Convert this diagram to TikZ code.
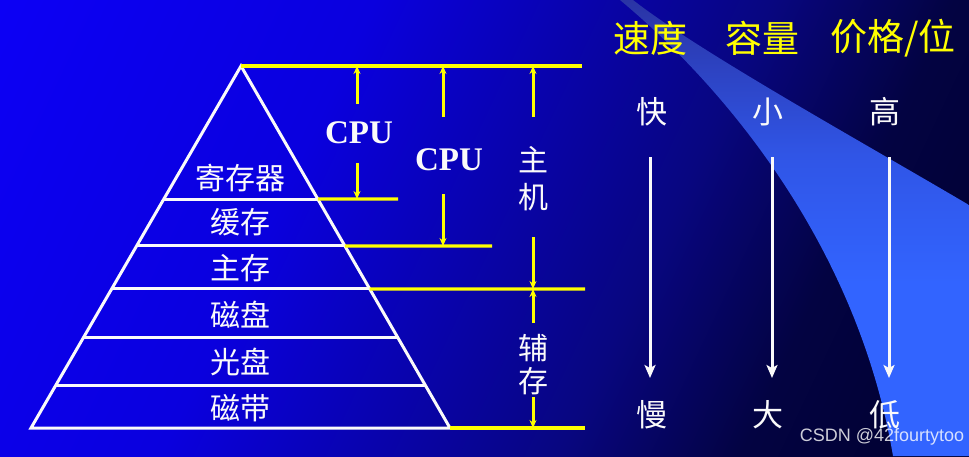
\documentclass[tikz,border=0pt]{standalone}
\usepackage{fontspec}
\setmainfont{Liberation Serif}
\newfontfamily\cjk{Noto Sans CJK SC}
\newfontfamily\wmfont{Liberation Sans}
\usetikzlibrary{calc,arrows.meta}

\definecolor{bgA}{RGB}{12,0,245}
\definecolor{bgB}{RGB}{10,0,222}
\definecolor{bgC}{RGB}{8,6,128}
\definecolor{bgD}{RGB}{3,3,66}
\definecolor{bgE}{RGB}{0,0,45}
\definecolor{swT}{RGB}{42,52,165}
\definecolor{swM}{RGB}{48,85,230}
\definecolor{swB}{RGB}{50,100,255}
\definecolor{ylw}{RGB}{255,255,0}
\definecolor{wt}{RGB}{250,250,250}

\pgfdeclarehorizontalshading{bgsh}{100bp}{color(0bp)=(bgA); color(16.7bp)=(bgA); color(37.7bp)=(bgB); color(60.2bp)=(bgC); color(70.5bp)=(bgD); color(83.3bp)=(bgE); color(100bp)=(bgE)}
\pgfdeclareverticalshading{swsh}{100bp}{color(0bp)=(swB); color(25bp)=(swB); color(44bp)=(swB); color(58bp)=(swM); color(75bp)=(swT); color(100bp)=(swT)}

\begin{document}
\begin{tikzpicture}[x=1pt,y=-1pt,
  ylwline/.style={draw=ylw, line width=3.2pt},
  ylwarrow/.style={draw=ylw, line width=3pt, -{Stealth[length=8pt,width=7pt]}},
  whtline/.style={draw=wt, line width=3pt},
  whtarrow/.style={draw=wt, line width=3pt, -{Stealth[length=13pt,width=11pt,inset=3pt]}},
  pyrtext/.style={text=wt, font=\cjk\fontsize{30}{30}\selectfont, inner sep=0pt},
  sidetext/.style={text=wt, font=\cjk\fontsize{30}{30}\selectfont, inner sep=0pt},
  cputext/.style={text=wt, font=\bfseries\fontsize{33}{33}\selectfont, inner sep=0pt},
  headtext/.style={text=ylw, font=\cjk\fontsize{37}{37}\selectfont, inner sep=0pt},
  valtext/.style={text=wt, font=\cjk\fontsize{31}{31}\selectfont, inner sep=0pt}
]
\useasboundingbox (0,0) rectangle (969,456);
% background
\shade[shading=bgsh, shading angle=-25.2] (0,0) rectangle (969,456);
% swoosh
\shade[shading=swsh] (633,0) .. controls (700,52) and (850,135) .. (969,205)
  -- (969,456) -- (893,456) .. controls (860,260) and (740,100) .. (620,0) -- cycle;

% pyramid
\coordinate (apex) at (241,66);
\coordinate (bl) at (31,428);
\coordinate (br) at (450,428);
\coordinate (l1) at ($(apex)!0.3674!(bl)$);
\coordinate (r1) at ($(apex)!0.3674!(br)$);
\coordinate (l2) at ($(apex)!0.4972!(bl)$);
\coordinate (r2) at ($(apex)!0.4972!(br)$);
\coordinate (l3) at ($(apex)!0.6160!(bl)$);
\coordinate (r3) at ($(apex)!0.6160!(br)$);
\coordinate (l4) at ($(apex)!0.7486!(bl)$);
\coordinate (r4) at ($(apex)!0.7486!(br)$);
\coordinate (l5) at ($(apex)!0.8812!(bl)$);
\coordinate (r5) at ($(apex)!0.8812!(br)$);
\draw[whtline, line join=miter] (apex) -- (bl) -- (br) -- cycle;
\draw[whtline] (l1) -- (r1);
\draw[whtline] (l2) -- (r2);
\draw[whtline] (l3) -- (r3);
\draw[whtline] (l4) -- (r4);
\draw[whtline] (l5) -- (r5);

\node[pyrtext] (reg) at (240,178) {寄存器};
\node[pyrtext] (cache) at (240,222) {缓存};
\node[pyrtext] (mem) at (240,268) {主存};
\node[pyrtext] (disk) at (240,315) {磁盘};
\node[pyrtext] (cd) at (240,362) {光盘};
\node[pyrtext] (tape) at (240,408) {磁带};

% yellow horizontal lines
\coordinate (ytop) at (582,66);
\coordinate (y1) at (398,199);
\coordinate (y2) at (492,246);
\coordinate (y3) at (585,289);
\coordinate (y6) at (585,428);
\draw[ylwline] (apex) -- (ytop);
\draw[ylwline] (r1) -- (y1);
\draw[ylwline] (r2) -- (y2);
\draw[ylwline] (r3) -- (y3);
\draw[ylwline] (br) -- (y6);

% CPU 1
\node[cputext] (cpu1) at (359,133) {CPU};
\coordinate (c1s) at (357,104);
\coordinate (c1t) at (357,66);
\coordinate (c1d) at (357,163);
\coordinate (c1b) at (357,199);
\draw[ylwarrow] (c1s) -- (c1t);
\draw[ylwarrow] (c1d) -- (c1b);

% CPU 2
\node[cputext] (cpu2) at (449,160) {CPU};
\coordinate (c2s) at (443,117);
\coordinate (c2t) at (443,66);
\coordinate (c2d) at (443,194);
\coordinate (c2b) at (443,246);
\draw[ylwarrow] (c2s) -- (c2t);
\draw[ylwarrow] (c2d) -- (c2b);

% host
\node[sidetext] (zhu) at (533,160) {主};
\node[sidetext] (ji) at (533,197) {机};
\coordinate (hs) at (533,117);
\coordinate (ht) at (533,66);
\coordinate (hd) at (533,237);
\coordinate (hb) at (533,289);
\draw[ylwarrow] (hs) -- (ht);
\draw[ylwarrow] (hd) -- (hb);

% auxiliary
\node[sidetext] (fu) at (533,348) {辅};
\node[sidetext] (cun) at (533,381) {存};
\coordinate (as) at (533,323);
\coordinate (at) at (533,289);
\coordinate (ad) at (533,397);
\coordinate (ab) at (533,428);
\draw[ylwarrow] (as) -- (at);
\draw[ylwarrow] (ad) -- (ab);

% right side
\node[headtext] (h1) at (650,38) {速度};
\node[headtext] (h2) at (762,38) {容量};
\node[headtext] (h3) at (893,38) {价格/位};

\node[valtext] (kuai) at (652,112) {快};
\node[valtext] (xiao) at (768,112) {小};
\node[valtext] (gao) at (885,112) {高};
\node[valtext] (man) at (652,415) {慢};
\node[valtext] (da) at (768,415) {大};
\node[valtext] (di) at (885,415) {低};

\coordinate (a1s) at (650,157);
\coordinate (a1e) at (650,378);
\coordinate (a2s) at (772,157);
\coordinate (a2e) at (772,378);
\coordinate (a3s) at (889,157);
\coordinate (a3e) at (889,378);
\draw[whtarrow] (a1s) -- (a1e);
\draw[whtarrow] (a2s) -- (a2e);
\draw[whtarrow] (a3s) -- (a3e);

\node[text=white, opacity=0.8, font=\wmfont\fontsize{18}{18}\selectfont, inner sep=0pt] (wmk) at (882,437) {CSDN @42fourtytoo};
\end{tikzpicture}
\end{document}
